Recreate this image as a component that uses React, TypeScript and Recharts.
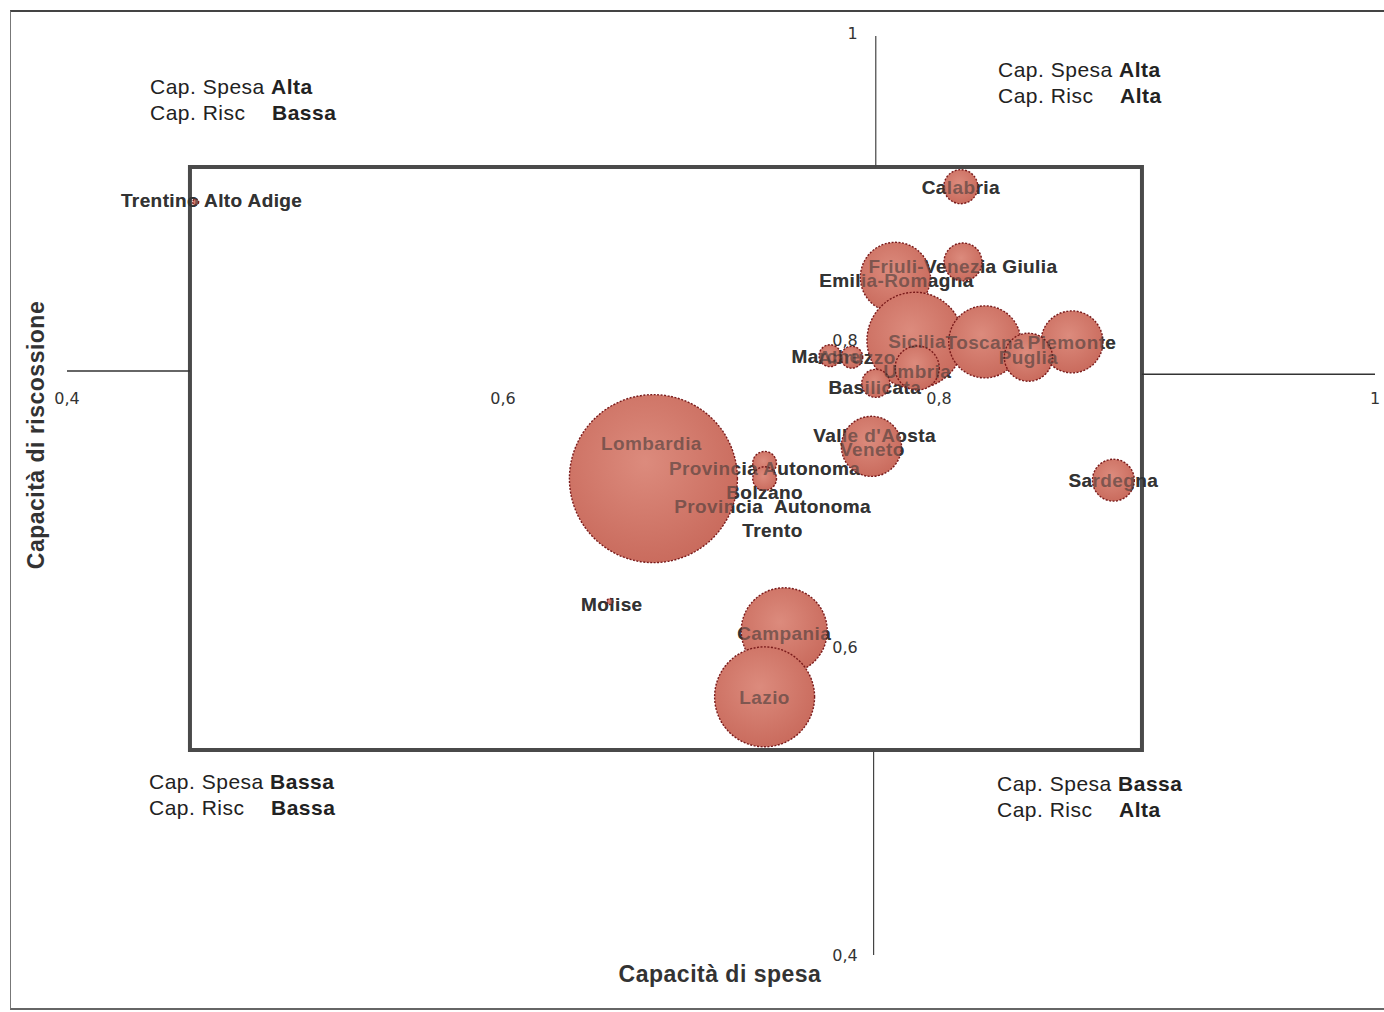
import { ScatterChart, Scatter, XAxis, YAxis, ZAxis, ReferenceLine, ReferenceArea } from 'recharts'

// Regioni: capacità di spesa (x), capacità di riscossione (y), peso della bolla (z)
const regioni = [
  'Trentino Alto Adige', 'Calabria', 'Friuli-Venezia Giulia', 'Emilia-Romagna', 'Sicilia',
  'Toscana', 'Piemonte', 'Puglia', 'Umbria', 'Marche', 'Abruzzo', 'Basilicata',
  "Valle d'Aosta", 'Veneto', 'Sardegna', 'Lombardia', 'Provincia Autonoma Bolzano',
  'Provincia Autonoma Trento', 'Molise', 'Campania', 'Lazio',
]
const capSpesa = [
  0.459, 0.81, 0.811, 0.78, 0.789, 0.821, 0.861, 0.841, 0.79, 0.75, 0.76, 0.771,
  0.77, 0.769, 0.88, 0.669, 0.72, 0.72, 0.649, 0.729, 0.72,
]
const capRiscossione = [
  0.89, 0.9, 0.851, 0.841, 0.8, 0.799, 0.799, 0.789, 0.782, 0.79, 0.789, 0.772,
  0.74, 0.731, 0.709, 0.71, 0.72, 0.71, 0.63, 0.611, 0.568,
]
const peso = [
  0.13, 4.1, 5.1, 17.4, 32.7, 18.4, 13.6, 8.2, 6.9, 1.7, 1.7, 2.8,
  0.2, 12.8, 6.2, 100, 2.0, 2.0, 0.13, 26.2, 35.4,
]

const xTicks = [0.4, 0.6, 0.8, 1]
const yTicks = [1, 0.8, 0.6, 0.4]

// where the two axes cross, and the inner plot frame (data units)
const crossX = 0.771
const crossY = 0.779
const frame = { x1: 0.4564, x2: 0.8931, y1: 0.5334, y2: 0.9128 }

const data = regioni.map((name, i) => ({ name, x: capSpesa[i], y: capRiscossione[i], z: peso[i] }))
const tickData = [
  ...xTicks.map((v) => ({ x: v, y: crossY, kind: 'x', text: String(v).replace('.', ',') })),
  ...yTicks.map((v) => ({ x: crossX, y: v, kind: 'y', text: String(v).replace('.', ',') })),
]

// label placement tweaks (px) — labels in the original were nudged by hand
const labelOffsets: Record<string, [number, number]> = {
  Lombardia: [-2, -36],
  'Provincia Autonoma Bolzano': [0, 5],
  'Provincia Autonoma Trento': [8, 27],
  'Trentino Alto Adige': [16, -2],
  'Friuli-Venezia Giulia': [0, 4],
  'Emilia-Romagna': [1, 3],
  Sicilia: [2, 1],
  "Valle d'Aosta": [1, 2],
  Veneto: [1, 3],
  Marche: [-4, 0],
  Abruzzo: [5, 0],
  Basilicata: [-1, 4],
  Umbria: [0, 3],
  Molise: [2, 2],
  Campania: [0, 2],
}
const labelLines: Record<string, string[]> = {
  'Provincia Autonoma Bolzano': ['Provincia Autonoma', 'Bolzano'],
  'Provincia Autonoma Trento': ['Provincia\u00a0 Autonoma', 'Trento'],
}

const font = '"Liberation Sans", Arial, sans-serif'

const Bubble = (p: any) => {
  const r = p.width ? p.width / 2 : Math.sqrt((p.size || 0) / Math.PI)
  return (
    <circle
      cx={p.cx}
      cy={p.cy}
      r={Math.max(r, 3)}
      fill="url(#bubbleFill)"
      stroke="#7a1b1b"
      strokeWidth={1.4}
      strokeDasharray="2 1.5"
    />
  )
}

const makeLabel = (opacity: number) => (p: any) => {
  const name = p.payload.name
  const [dx, dy] = labelOffsets[name] ?? [0, 0]
  const lines = labelLines[name] ?? [name]
  const x = p.cx + dx
  return (
    <text
      x={x}
      y={p.cy + dy}
      textAnchor="middle"
      dominantBaseline="central"
      fontFamily={font}
      fontSize={19}
      letterSpacing={0.4}
      fontWeight={700}
      fill="#333"
      fillOpacity={opacity}
    >
      {lines.map((l, i) => (
        <tspan key={i} x={x} dy={i === 0 ? 0 : 24}>
          {l}
        </tspan>
      ))}
    </text>
  )
}

const TickText = (p: any) => {
  const d = p.payload
  const isX = d.kind === 'x'
  return (
    <text
      x={isX ? p.cx : p.cx - 18}
      y={isX ? p.cy + 26 : p.cy}
      textAnchor={isX ? 'middle' : 'end'}
      dominantBaseline="central"
      fontFamily='"DejaVu Sans", sans-serif'
      fontSize={16}
      fill="#333"
    >
      {d.text}
    </text>
  )
}

const Quadrant = ({ x, y, a, b }: { x: number; y: number; a: string; b: string }) => (
  <text fontFamily={font} fontSize={21} letterSpacing={0.5} fill="#222">
    <tspan x={x} y={y}>Cap. Spesa </tspan>
    <tspan fontWeight={600}>{a}</tspan>
    <tspan x={x} y={y + 26}>Cap. Risc</tspan>
    <tspan x={x + 122} fontWeight={600}>{b}</tspan>
  </text>
)

export default function App() {
  return (
    <div style={{ position: 'absolute', left: 0, top: 0, width: 1384, height: 1012, background: '#fff', overflow: 'hidden' }}>
      <div
        style={{
          position: 'absolute',
          left: 10,
          top: 10,
          width: 1380,
          height: 996,
          borderLeft: '1.5px solid #777',
          borderTop: '2px solid #444',
          borderBottom: '2px solid #666',
        }}
      />
      <ScatterChart width={1384} height={1012} margin={{ top: 33, right: 9, bottom: 57, left: 67 }}>
        <defs>
          <radialGradient id="bubbleFill" cx="45%" cy="40%" r="65%">
            <stop offset="0%" stopColor="#dc8b7d" />
            <stop offset="100%" stopColor="#c8695b" />
          </radialGradient>
        </defs>
        <XAxis type="number" dataKey="x" domain={[0.4, 1]} hide />
        <YAxis type="number" dataKey="y" domain={[0.4, 1]} hide />
        <ZAxis type="number" dataKey="z" domain={[0, 100]} range={[0, Math.PI * 84 * 84]} />

        <ReferenceLine segment={[{ x: 0.4, y: 0.78 }, { x: frame.x1, y: 0.78 }]} stroke="#333" strokeWidth={1.5} />
        <ReferenceLine segment={[{ x: frame.x2, y: 0.778 }, { x: 1, y: 0.778 }]} stroke="#333" strokeWidth={1.5} />
        <ReferenceLine segment={[{ x: crossX, y: 0.998 }, { x: crossX, y: frame.y2 }]} stroke="#444" strokeWidth={1.2} />
        <ReferenceLine segment={[{ x: 0.77, y: frame.y1 }, { x: 0.77, y: 0.4 }]} stroke="#444" strokeWidth={1.2} />
        <ReferenceArea
          x1={frame.x1}
          x2={frame.x2}
          y1={frame.y1}
          y2={frame.y2}
          fill="none"
          stroke="#4a4a4a"
          strokeWidth={4}
          fillOpacity={0}
        />

        <Scatter data={data} shape={makeLabel(1)} isAnimationActive={false} />
        <Scatter data={data} shape={Bubble} isAnimationActive={false} />
        <Scatter data={data} shape={makeLabel(0.55)} isAnimationActive={false} />
        <Scatter data={tickData} shape={TickText} isAnimationActive={false} />
      </ScatterChart>

      <svg width={1384} height={1012} style={{ position: 'absolute', left: 0, top: 0, pointerEvents: 'none' }}>
        <Quadrant x={150} y={94} a="Alta" b="Bassa" />
        <Quadrant x={998} y={77} a="Alta" b="Alta" />
        <Quadrant x={149} y={789} a="Bassa" b="Bassa" />
        <Quadrant x={997} y={791} a="Bassa" b="Alta" />
        <text x={720} y={982} textAnchor="middle" fontFamily={font} fontSize={23} letterSpacing={0.5} fontWeight={700} fill="#333">
          Capacità di spesa
        </text>
        <text
          transform="translate(44,435) rotate(-90)"
          textAnchor="middle"
          fontFamily={font}
          fontSize={23}
          letterSpacing={0.5}
          fontWeight={700}
          fill="#333"
        >
          Capacità di riscossione
        </text>
      </svg>
    </div>
  )
}
